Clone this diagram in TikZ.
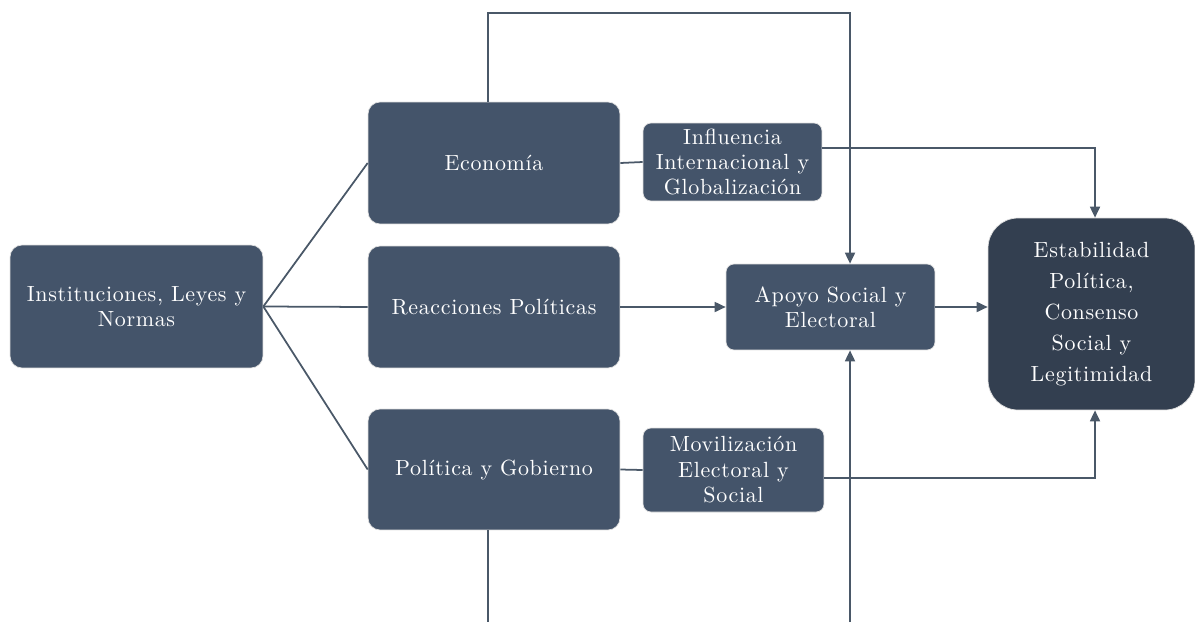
\documentclass[tikz,border=0pt]{standalone}
\usepackage{fontspec}
\newfontfamily\diagfont{lmroman10-regular.otf}[LetterSpace=3]
\usepackage{xcolor}
\usetikzlibrary{arrows.meta,positioning,calc}
\definecolor{slate}{HTML}{44546A}
\definecolor{darkslate}{HTML}{333F50}
\definecolor{wire}{HTML}{4A5868}

\tikzset{
    box/.style={rectangle, rounded corners=0.24cm, fill=slate, draw=black!12, line width=0.4pt, text=white, align=center, inner sep=0pt, font=\diagfont\fontsize{12.5}{14.5}\selectfont},
    smallbox/.style={box, rounded corners=0.16cm},
    bigbox/.style={box, rounded corners=0.6cm, fill=darkslate, font=\diagfont\fontsize{12.5}{17.6}\selectfont},
    link/.style={draw=wire, line width=1pt},
    arrowlink/.style={link, -{Triangle[length=0.22cm, width=0.2cm]}}
}

\begin{document}
\begin{tikzpicture}[x=0.02cm, y=-0.02cm]
    \useasboundingbox (0,0) rectangle (1195,622);

    \node[box, minimum width=5.06cm, minimum height=2.46cm] (inst) at (136.5,306.5) {Instituciones, Leyes y\\Normas};
    \node[box, minimum width=5.04cm, minimum height=2.44cm] (econ) at (494,163) {Economía};
    \node[box, minimum width=5.04cm, minimum height=2.44cm] (reac) at (494,307) {Reacciones Políticas};
    \node[box, minimum width=5.04cm, minimum height=2.42cm] (poli) at (494,469.5) {Política y Gobierno};
    \node[smallbox, minimum width=3.58cm, minimum height=1.56cm] (infl) at (732.5,162) {Influencia\\Internacional y\\Globalización};
    \node[smallbox, minimum width=3.62cm, minimum height=1.68cm] (movi) at (733.5,470) {Movilización\\Electoral y\\Social};
    \node[smallbox, minimum width=4.18cm, minimum height=1.72cm] (apoyo) at (830.5,307) {Apoyo Social y\\Electoral};
    \node[bigbox, minimum width=4.14cm, minimum height=3.84cm] (estab) at (1091.5,314) {Estabilidad\\Política,\\Consenso\\Social y\\Legitimidad};

    \coordinate (topL) at (488,13);
    \coordinate (topR) at (850,13);
    \coordinate (botL) at (488,622);
    \coordinate (botR) at (850,622);
    \coordinate (inR) at (1095,148);
    \coordinate (moR) at (1095,478);

    % branches from the institutions
    \draw[link] (inst.east) -- (econ.west);
    \draw[link] (inst.east) -- (reac.west);
    \draw[link] (inst.east) -- (poli.west);

    \draw[link] (econ.east) -- (infl.west);
    \draw[link] (poli.east) -- (movi.west);

    % loops over the top and from the bottom
    \draw[arrowlink] (econ.north -| topL) -- (topL) -- (topR) -- (apoyo.north -| topR);
    \draw[link] (poli.south -| botL) -- (botL);
    \draw[arrowlink] (botR) -- (apoyo.south -| botR);

    \draw[arrowlink] (reac.east) -- (apoyo.west);
    \draw[arrowlink] (apoyo.east) -- (apoyo.east -| estab.west);
    \draw[arrowlink] (infl.east |- inR) -- (inR) -- (estab.north -| inR);
    \draw[arrowlink] (movi.east |- moR) -- (moR) -- (estab.south -| moR);
\end{tikzpicture}
\end{document}
